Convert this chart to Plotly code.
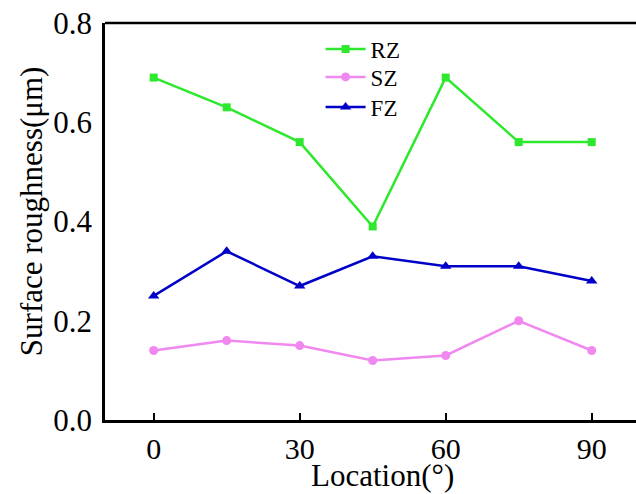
import plotly.graph_objects as go

location = [0, 15, 30, 45, 60, 75, 90]
rz = [0.69, 0.63, 0.56, 0.39, 0.69, 0.56, 0.56]
sz = [0.14, 0.16, 0.15, 0.12, 0.13, 0.20, 0.14]
fz = [0.25, 0.34, 0.27, 0.33, 0.31, 0.31, 0.28]
x_ticks = [0, 30, 60, 90]
y_ticks = [0.0, 0.2, 0.4, 0.6, 0.8]

FONT = "Liberation Serif, Times New Roman, serif"

fig = go.Figure()
fig.add_trace(go.Scatter(x=location, y=rz, name="RZ", mode="lines+markers", legend="legend",
                         line=dict(color="#2ee82e", width=2.5),
                         marker=dict(symbol="square", size=8, color="#2ee82e")))
fig.add_trace(go.Scatter(x=location, y=sz, name="SZ", mode="lines+markers", legend="legend2",
                         line=dict(color="#f088f0", width=2.5),
                         marker=dict(symbol="circle", size=9, color="#f088f0")))
fig.add_trace(go.Scatter(x=location, y=fz, name="FZ", mode="lines+markers", legend="legend3",
                         line=dict(color="#0000c8", width=2.5),
                         marker=dict(symbol="triangle-up", size=10, color="#0000c8")))

def leg(yc):
    return dict(x=0.406, y=yc, xanchor="left", yanchor="middle",
                bgcolor="rgba(0,0,0,0)", font=dict(family=FONT, size=23),
                itemwidth=40)

fig.update_layout(
    width=636, height=494,
    margin=dict(l=105, r=0, t=23, b=74, autoexpand=False),
    paper_bgcolor="white", plot_bgcolor="white",
    font=dict(family=FONT, size=30, color="black"),
    showlegend=True,
    legend=leg(0.9345), legend2=leg(0.864), legend3=leg(0.788),
    xaxis=dict(range=[-10, 99.1], tickvals=x_ticks, ticks="inside", ticklen=7,
               tickwidth=2, tickcolor="black", showline=True, linecolor="black",
               linewidth=2.5, showgrid=False, zeroline=False, automargin=False,
               tickfont=dict(size=30)),
    yaxis=dict(range=[0, 0.8], tickvals=y_ticks, tickformat=".1f", ticks="",
               showline=True, linecolor="black", linewidth=2.5, showgrid=False,
               zeroline=False, automargin=False, ticklabelstandoff=4,
               tickfont=dict(size=31)),
)
fig.add_annotation(text="Surface roughness(μm)", textangle=-90, showarrow=False,
                   xref="paper", yref="paper", x=0, y=0.526, xanchor="center",
                   yanchor="middle", xshift=-74, font=dict(family=FONT, size=31))
fig.add_annotation(text="Location(°)", showarrow=False,
                   xref="paper", yref="paper", x=0.5, y=-0.141, xanchor="center",
                   yanchor="middle", xshift=12, font=dict(family=FONT, size=31))
fig.add_shape(type="line", xref="paper", yref="paper", x0=0, x1=1.01, y0=1, y1=1,
              line=dict(color="black", width=2.5))

fig.write_html("out.html", config={"displayModeBar": False},
               post_script="document.body.style.margin='0';document.body.style.overflow='hidden';")
